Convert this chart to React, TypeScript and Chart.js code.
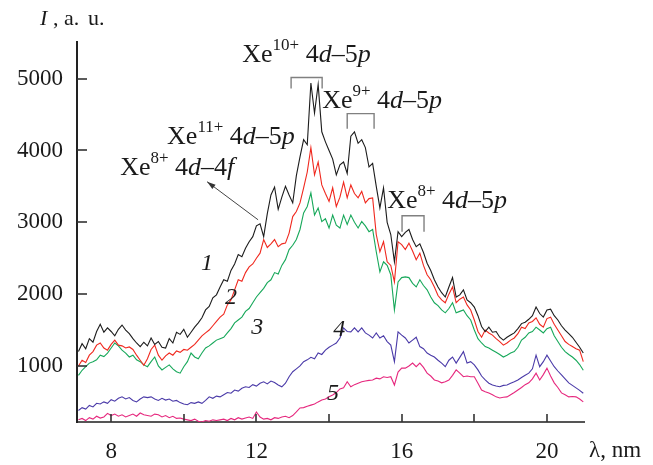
import React, { useEffect, useRef } from "react";
import { Chart, registerables } from "chart.js";
Chart.register(...registerables);

// wavelength grid, nm (7.1 ... 21.0, step 0.1)
const wavelengths: number[] = Array.from({ length: 140 }, (_, i) => Math.round((7.1 + i * 0.1) * 10) / 10);

const curve1 = [
  1200,1310,1240,1380,1330,1480,1580,1470,1530,1480,
  1420,1510,1570,1500,1450,1380,1320,1270,1330,1280,
  1390,1300,1340,1260,1250,1380,1320,1470,1440,1510,
  1400,1470,1540,1600,1670,1780,1830,1950,1990,2100,
  2200,2180,2330,2420,2550,2520,2640,2730,2800,2950,
  2980,2800,3120,3380,3490,3180,3350,3500,3380,3270,
  3650,3910,4150,4080,4940,4520,4920,4260,4120,4000,
  3880,3660,3800,3840,3680,4200,4260,4100,4150,4040,
  3770,3820,3500,3200,3480,3000,2830,2450,2870,2800,
  2860,2900,2760,2660,2700,2580,2430,2330,2200,2100,
  2020,1960,2100,2230,1960,1990,2060,1920,1880,1820,
  1700,1550,1480,1540,1470,1480,1400,1360,1400,1430,
  1460,1520,1590,1610,1650,1700,1820,1730,1680,1780,
  1790,1700,1640,1560,1500,1450,1400,1330,1260,1180,
];
const curve2 = [
  1000,1080,1050,1150,1200,1290,1320,1250,1220,1300,
  1360,1290,1280,1250,1265,1230,1150,1080,1010,1100,
  1230,1290,1150,1080,1140,1180,1150,1210,1190,1230,
  1220,1260,1300,1360,1420,1460,1500,1560,1620,1680,
  1720,1850,1920,2060,2200,2180,2300,2380,2420,2500,
  2570,2760,2650,2700,2760,2660,2700,2710,2850,3080,
  3150,3270,3480,3700,4040,3660,3840,3520,3400,3290,
  3480,3220,3350,3560,3340,3520,3400,3340,3430,3270,
  3330,3340,2830,2590,2730,2450,2400,2170,2730,2690,
  2620,2710,2600,2480,2570,2400,2270,2200,2100,1980,
  1920,1880,2000,2100,1880,1930,1960,1850,1780,1640,
  1480,1400,1500,1460,1430,1380,1340,1290,1320,1360,
  1390,1450,1540,1520,1600,1620,1670,1580,1540,1660,
  1680,1580,1500,1420,1340,1300,1270,1240,1220,1060,
];
const curve3 = [
  870,940,990,1040,1060,1085,1150,1130,1180,1250,
  1320,1280,1220,1180,1125,1150,1085,1060,1015,990,
  1060,1125,1000,945,980,1015,960,920,900,990,
  1060,1180,1125,1100,1180,1250,1280,1320,1360,1380,
  1400,1460,1520,1600,1640,1680,1760,1800,1880,1960,
  2020,2080,2160,2200,2300,2280,2400,2480,2620,2680,
  2760,2900,3130,3220,3410,3100,3200,3010,3050,2920,
  3100,2960,2920,3100,2970,3100,3000,2920,3010,2950,
  2870,2900,2590,2310,2450,2400,2270,1780,2170,2230,
  2240,2230,2150,2100,2200,2120,2060,1960,1880,1840,
  1780,1740,1800,1880,1740,1760,1780,1700,1640,1500,
  1380,1320,1270,1250,1220,1190,1160,1125,1150,1180,
  1200,1260,1360,1400,1460,1480,1540,1500,1460,1520,
  1540,1420,1340,1260,1200,1160,1125,1080,1020,940,
];
const curve4 = [
  380,420,400,450,430,480,470,500,480,530,
  510,550,570,540,560,520,500,540,570,560,
  570,540,520,550,525,540,510,520,490,470,
  460,490,480,500,480,520,570,550,580,570,
  600,630,620,665,650,690,710,700,740,720,
  760,780,750,790,770,735,710,760,850,920,
  960,1000,1060,1085,1120,1100,1180,1160,1220,1260,
  1290,1320,1390,1530,1480,1475,1530,1475,1530,1460,
  1430,1390,1460,1390,1420,1340,1290,1060,1475,1430,
  1390,1320,1360,1400,1270,1240,1180,1150,1125,1080,
  1040,990,1080,1125,1040,1120,1200,1040,1060,1015,
  945,860,805,760,735,720,710,730,735,760,
  780,805,840,870,900,960,1150,990,1060,1150,
  1070,990,930,875,820,765,730,695,660,620,
];
const curve5 = [
  250,270,240,280,260,300,275,290,340,310,
  330,300,320,290,310,330,300,345,320,310,
  300,330,320,290,310,280,300,270,275,260,
  250,240,260,230,220,240,230,250,240,250,
  260,240,270,250,280,260,275,290,270,360,
  290,260,270,250,280,270,290,300,280,310,
  360,415,420,440,455,470,500,525,540,570,
  595,630,680,695,780,710,740,760,780,790,
  800,805,830,820,850,840,850,735,915,970,
  970,1000,1040,990,1040,980,900,860,805,790,
  765,780,805,870,945,900,850,860,850,850,
  760,665,640,625,600,570,555,565,570,600,
  630,665,700,740,765,820,900,805,880,970,
  860,765,700,625,600,570,575,570,540,500,
];

const seriesValues = [curve1, curve2, curve3, curve4, curve5];
const seriesColors = ["#1c1c1c", "#f0281e", "#17a85a", "#4a3aa8", "#e6287e"];
const curveNumbers = ["1", "2", "3", "4", "5"];
// label anchor (nm, a.u.) of each curve number
const curveNumberX = [10.64, 11.3, 12.02, 14.28, 14.11];
const curveNumberY = [2422, 1948, 1530, 1502, 610];

const xTickValues = [8, 10, 12, 14, 16, 18, 20];
const xTickLabels = [8, 12, 16, 20];
const yTickValues = [1000, 2000, 3000, 4000, 5000];

const X_MIN = 7.06, X_MAX = 21.02, Y_MIN = 220, Y_MAX = 5510;

type Seg = { t: string; it?: boolean; sup?: boolean };
const ion = (charge: string, trans: Seg[]): Seg[] => [
  { t: "Xe" }, { t: charge, sup: true }, { t: " " }, ...trans,
];
const d45p: Seg[] = [{ t: "4" }, { t: "d", it: true }, { t: "\u2013" }, { t: "5" }, { t: "p", it: true }];
const d44f: Seg[] = [{ t: "4" }, { t: "d", it: true }, { t: "\u2013" }, { t: "4" }, { t: "f", it: true }];

// annotation texts: [segments, x (nm), baseline y (a.u.)]
const annotations: { segs: Seg[]; x: number; y: number }[] = [
  { segs: ion("10+", d45p), x: 11.61, y: 5238 },
  { segs: ion("9+", d45p), x: 13.81, y: 4597 },
  { segs: ion("8+", d45p), x: 15.6, y: 3203 },
  { segs: ion("11+", d45p), x: 9.54, y: 4095 },
  { segs: ion("8+", d44f), x: 8.25, y: 3663 },
];
// brackets: x1, x2, top y, bottom y
const brackets = [
  { x1: 12.955, x2: 13.81, top: 5015, bottom: 4861 },
  { x1: 14.5, x2: 15.24, top: 4513, bottom: 4304 },
  { x1: 16.01, x2: 16.615, top: 3091, bottom: 2868 },
];
const arrow = { fromX: 12.046, fromY: 3035, toX: 10.642, toY: 3565 };

const SERIF = '"Liberation Serif", "Times New Roman", serif';

function drawRich(ctx: CanvasRenderingContext2D, x: number, y: number, segs: Seg[], size: number) {
  let cx = x;
  ctx.textBaseline = "alphabetic";
  ctx.textAlign = "left";
  for (const s of segs) {
    const fs = s.sup ? Math.round(size * 0.66) : size;
    ctx.font = `${s.it ? "italic " : ""}${fs}px ${SERIF}`;
    ctx.fillText(s.t, cx, s.sup ? y - size * 0.45 : y);
    cx += ctx.measureText(s.t).width;
  }
}

const decorPlugin = {
  id: "decor",
  afterDraw(chart: any) {
    const ctx: CanvasRenderingContext2D = chart.ctx;
    const xs = chart.scales.x, ys = chart.scales.y;
    const area = chart.chartArea;
    ctx.save();
    // inward tick marks
    ctx.strokeStyle = "#333";
    ctx.lineWidth = 1.6;
    for (const v of xTickValues) {
      const px = Math.round(xs.getPixelForValue(v));
      ctx.beginPath();
      ctx.moveTo(px, area.bottom);
      ctx.lineTo(px, area.bottom - 8);
      ctx.stroke();
    }
    for (const v of yTickValues) {
      const py = Math.round(ys.getPixelForValue(v));
      ctx.beginPath();
      ctx.moveTo(area.left, py);
      ctx.lineTo(area.left + 10, py);
      ctx.stroke();
    }
    // brackets
    ctx.strokeStyle = "#808080";
    ctx.lineWidth = 1.4;
    for (const b of brackets) {
      const x1 = xs.getPixelForValue(b.x1), x2 = xs.getPixelForValue(b.x2);
      const t = ys.getPixelForValue(b.top), bt = ys.getPixelForValue(b.bottom);
      ctx.beginPath();
      ctx.moveTo(x1, bt); ctx.lineTo(x1, t); ctx.lineTo(x2, t); ctx.lineTo(x2, bt);
      ctx.stroke();
    }
    // arrow
    const ax1 = xs.getPixelForValue(arrow.fromX), ay1 = ys.getPixelForValue(arrow.fromY);
    const ax2 = xs.getPixelForValue(arrow.toX), ay2 = ys.getPixelForValue(arrow.toY);
    ctx.strokeStyle = "#444";
    ctx.fillStyle = "#333";
    ctx.lineWidth = 1;
    ctx.beginPath(); ctx.moveTo(ax1, ay1); ctx.lineTo(ax2, ay2); ctx.stroke();
    const ang = Math.atan2(ay2 - ay1, ax2 - ax1);
    ctx.beginPath();
    ctx.moveTo(ax2, ay2);
    ctx.lineTo(ax2 - 9 * Math.cos(ang - 0.3), ay2 - 9 * Math.sin(ang - 0.3));
    ctx.lineTo(ax2 - 9 * Math.cos(ang + 0.3), ay2 - 9 * Math.sin(ang + 0.3));
    ctx.closePath(); ctx.fill();
    // annotation texts
    ctx.fillStyle = "#1a1a1a";
    for (const a of annotations) {
      drawRich(ctx, xs.getPixelForValue(a.x), ys.getPixelForValue(a.y), a.segs, 26);
    }
    // curve numbers
    ctx.font = `italic 24px ${SERIF}`;
    ctx.textAlign = "center";
    ctx.textBaseline = "middle";
    curveNumbers.forEach((n, i) => {
      ctx.fillText(n, xs.getPixelForValue(curveNumberX[i]), ys.getPixelForValue(curveNumberY[i]));
    });
    // axis titles
    ctx.textAlign = "left";
    ctx.textBaseline = "alphabetic";
    ctx.font = `italic 22px ${SERIF}`;
    ctx.fillText("I", 40, 25);
    ctx.font = `22px ${SERIF}`;
    ctx.fillText(",", 53, 25);
    ctx.fillText("a.", 64, 25);
    ctx.fillText("u.", 88, 25);
    ctx.font = `23px ${SERIF}`;
    ctx.fillText("\u03bb, nm", area.right + 5, 457);
    ctx.restore();
  },
};

export default function App() {
  const ref = useRef<HTMLCanvasElement>(null);
  useEffect(() => {
    const chart = new Chart(ref.current!, {
      type: "line",
      data: {
        datasets: seriesValues.map((vals, i) => ({
          label: curveNumbers[i],
          data: vals.map((v, j) => ({ x: wavelengths[j], y: v })),
          borderColor: seriesColors[i],
          borderWidth: 1.1,
          pointRadius: 0,
          tension: 0,
          fill: false,
        })),
      },
      options: {
        animation: false,
        responsive: false,
        devicePixelRatio: 1,
        layout: { padding: { left: 0, right: 69, top: 42, bottom: 0 } },
        plugins: { legend: { display: false }, tooltip: { enabled: false }, title: { display: false } },
        scales: {
          x: {
            type: "linear",
            min: X_MIN,
            max: X_MAX,
            afterBuildTicks: (s: any) => { s.ticks = xTickValues.map((v) => ({ value: v })); },
            afterFit: (s: any) => { s.height = 43; },
            grid: { drawOnChartArea: false, drawTicks: false },
            border: { display: true, color: "#555", width: 2 },
            ticks: {
              padding: 16,
              color: "#1a1a1a",
              maxRotation: 0,
              autoSkip: false,
              font: { family: SERIF, size: 23 },
              callback: (v: any) => (xTickLabels.includes(Number(v)) ? String(v) : ""),
            },
          },
          y: {
            type: "linear",
            min: Y_MIN,
            max: Y_MAX,
            afterBuildTicks: (s: any) => { s.ticks = yTickValues.map((v) => ({ value: v })); },
            afterFit: (s: any) => { s.width = 77; },
            grid: { drawOnChartArea: false, drawTicks: false },
            border: { display: true, color: "#222", width: 2 },
            ticks: {
              padding: 14,
              color: "#1a1a1a",
              autoSkip: false,
              font: { family: SERIF, size: 23 },
              callback: (v: any) => String(v),
            },
          },
        },
      },
      plugins: [decorPlugin],
    } as any);
    return () => chart.destroy();
  }, []);
  return (
    <div style={{ position: "absolute", left: 0, top: 0, width: 653, height: 465, background: "#fff" }}>
      <canvas ref={ref} width={653} height={465} style={{ display: "block", width: 653, height: 465 }} />
    </div>
  );
}
